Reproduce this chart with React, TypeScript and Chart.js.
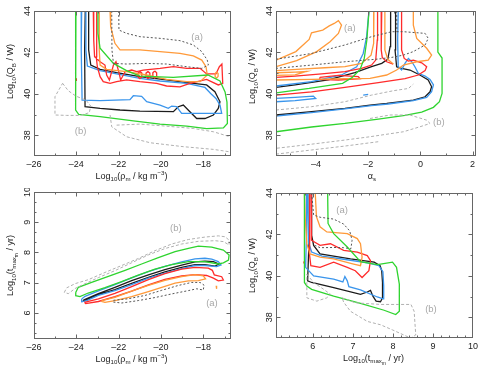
import React, { useEffect, useRef } from "react";
import { Chart, registerables } from "chart.js";
Chart.register(...registerables);

type Pt = [number, number];
type Seg = [string, number];

// ---------------- Panel 1 : Log10(QB/W) vs Log10(rho_m) ----------------
const p1XTicks = [-26, -24, -22, -20, -18];
const p1YTicks = [38, 40, 42, 44];
const p1Green: Pt[] = [[-24.02,44],[-24.05,41.31],[-24.02,39.22],[-23.89,39.01],[-22.88,38.9],[-21.31,38.7],[-20.05,38.54],[-18.79,38.44],[-17.85,38.32],[-17.06,38.36],[-16.87,38.57],[-16.89,39.6],[-16.98,40.09],[-17.22,40.62],[-17.79,40.91],[-19.42,40.8],[-21.0,40.86],[-21.63,41.12],[-22.25,41.47],[-22.88,42.2],[-22.98,42.92],[-22.98,44]];
const p1Black: Pt[] = [[-23.58,44],[-23.61,42.12],[-23.59,39.38],[-22.88,39.3],[-21.94,39.22],[-21.0,39.17],[-19.42,39.14],[-19.19,39.38],[-18.95,39.46],[-18.64,39.14],[-18.32,38.81],[-17.93,38.81],[-17.53,38.98],[-17.3,39.3],[-17.22,39.62],[-17.46,40.1],[-17.85,40.43],[-18.79,40.54],[-19.74,40.67],[-21.0,40.83],[-22.1,41.02],[-22.88,41.18],[-23.32,41.39],[-23.42,42.12],[-23.42,44]];
const p1Blue: Pt[] = [[-23.75,44],[-23.77,42.12],[-23.73,39.7],[-22.88,39.67],[-21.47,39.72],[-21.31,39.91],[-20.92,39.88],[-20.68,39.62],[-20.05,39.46],[-19.66,39.3],[-19.5,39.41],[-19.27,39.38],[-19.03,39.06],[-18.16,39.06],[-17.14,39.06],[-17.22,39.46],[-17.41,39.78],[-17.66,40.02],[-17.93,40.31],[-18.79,40.51],[-20.05,40.62],[-21.0,40.75],[-22.1,40.96],[-22.88,41.12],[-23.48,41.34],[-23.55,42.12],[-23.55,44]];
const p1Red: Pt[] = [[-23.2,44],[-23.18,42.6],[-23.14,41.79],[-22.88,41.55],[-22.65,41.39],[-22.57,40.91],[-22.44,40.67],[-22.25,41.39],[-22.13,41.55],[-22.0,41.07],[-21.91,40.67],[-21.7,41.07],[-21.39,41.15],[-21.15,41.07],[-20.84,41.15],[-20.05,41.23],[-19.42,41.31],[-18.79,41.23],[-18.16,41.23],[-17.85,40.96],[-17.41,40.96],[-17.25,41.31],[-17.13,41.44],[-17.09,40.51],[-17.3,40.43],[-17.85,40.7],[-18.64,40.51],[-19.11,40.34],[-19.74,40.38],[-20.21,40.51],[-21.0,40.59],[-21.63,40.67],[-22.1,40.59],[-22.41,40.51],[-22.73,40.59],[-22.88,40.83],[-23.01,41.31],[-23.06,41.79],[-23.04,44]];
const p1RedLoopA: Pt[] = [[-21.0,41.08],[-20.91,41.0],[-20.91,40.82],[-21.0,40.74],[-21.09,40.82],[-21.09,41.0],[-21.0,41.08]];
const p1RedLoopB: Pt[] = [[-20.62,41.08],[-20.53,41.0],[-20.53,40.82],[-20.62,40.74],[-20.71,40.82],[-20.71,41.0],[-20.62,41.08]];
const p1RedLoopC: Pt[] = [[-20.3,41.1],[-20.21,41.02],[-20.21,40.84],[-20.3,40.76],[-20.39,40.84],[-20.39,41.02],[-20.3,41.1]];
const p1RedDot: Pt[] = [[-24.0,40.75],[-24.0,40.62]];
const p1Orange: Pt[] = [[-22.41,44],[-22.38,43.24],[-22.18,42.44],[-21.94,42.12],[-21.0,42.12],[-20.05,42.04],[-19.11,41.95],[-18.48,41.83],[-18.08,41.63],[-17.88,41.31],[-17.82,40.91],[-18.16,40.59],[-18.79,40.59],[-19.74,40.7],[-20.68,40.91],[-21.63,41.07],[-22.57,41.18],[-22.88,41.39],[-22.92,42.12],[-22.92,44]];
const p1OrangeLoop: Pt[] = [[-17.38,41.06],[-17.31,40.98],[-17.31,40.84],[-17.38,40.76],[-17.45,40.84],[-17.45,40.98],[-17.38,41.06]];
const p1DarkDot: Pt[] = [[-22.0,44],[-21.99,43.08],[-21.63,42.92],[-21.0,42.76],[-20.05,42.68],[-19.11,42.57],[-18.48,42.36],[-18.08,42.04],[-17.82,41.63],[-17.77,41.39],[-18.08,41.23],[-18.79,41.31],[-19.74,41.44],[-20.68,41.47],[-21.63,41.44],[-22.25,41.47],[-22.32,42.12],[-22.33,44]];
const p1LightA: Pt[] = [[-24.65,40.51],[-24.38,40.15],[-24.02,39.89],[-23.55,39.7],[-23.32,39.41],[-23.39,39.09],[-23.83,38.96],[-24.46,38.96],[-25.01,38.98],[-25.01,39.86],[-24.65,40.51]];
const p1LightB: Pt[] = [[-22.41,38.98],[-22.33,38.41],[-21.63,37.93],[-20.52,37.64],[-18.95,37.45],[-17.53,37.32],[-16.75,37.2]];
const p1LightC: Pt[] = [[-22.1,38.49],[-21.0,38.54],[-19.74,38.44],[-18.48,38.33],[-17.53,38.17],[-16.75,37.93]];

// ---------------- Panel 2 : Log10(QB/W) vs alpha_s ----------------
const p2XTicks = [-4, -2, 0, 2];
const p2YTicks = [38, 40, 42, 44];
const p2GreenA: Pt[] = [[-5.53,38.17],[-4.17,38.4],[-2.89,38.57],[-1.61,38.78],[-0.59,38.96],[0.05,39.12],[0.5,39.35],[0.73,39.62],[0.83,40.02],[0.83,41.73],[0.67,42.02],[0.67,44]];
const p2GreenB: Pt[] = [[-5.53,40.05],[-4.26,40.26],[-2.98,40.51],[-2.6,40.8],[-2.31,41.18],[-2.15,41.71],[-2.05,42.6],[-1.97,44]];
const p2BlackA: Pt[] = [[-5.53,38.98],[-4.17,39.14],[-2.89,39.3],[-1.93,39.46],[-1.29,39.54],[-0.27,39.7],[0.18,39.86],[0.37,40.1],[0.43,40.34],[0.3,40.67],[-0.02,40.91],[-0.4,41.15],[-0.72,41.23],[-0.91,41.31],[-0.97,42.12],[-0.95,44]];
const p2BlackB: Pt[] = [[-5.53,40.31],[-4.8,40.43],[-3.53,40.67],[-2.51,41.02],[-1.87,41.31],[-1.48,41.47],[-1.25,41.67],[-1.16,42.28],[-1.14,44]];
const p2BlueA: Pt[] = [[-5.53,38.93],[-4.17,39.09],[-2.89,39.27],[-1.87,39.43],[-1.23,39.51],[-0.27,39.67],[0.24,39.83],[0.43,40.1],[0.5,40.43],[0.37,40.7],[0.18,40.86],[-0.08,40.99],[-0.21,41.31],[-0.33,41.55],[-0.46,41.71],[-0.59,41.47],[-0.72,41.15],[-0.85,41.31],[-0.87,42.6],[-0.85,44]];
const p2BlueB: Pt[] = [[-5.53,40.38],[-4.17,40.59],[-3.02,40.91],[-2.44,41.31],[-2.19,41.95],[-2.06,42.76],[-1.97,44]];
const p2BlueLoop: Pt[] = [[-5.53,39.78],[-4.8,39.83],[-4.1,39.89],[-4.01,39.78],[-4.8,39.67],[-5.53,39.62]];
const p2BlueDash: Pt[] = [[-2.19,39.94],[-2.0,39.97]];
const p2RedA: Pt[] = [[-5.53,39.94],[-4.17,40.1],[-2.89,40.31],[-1.61,40.54],[-0.59,40.73],[-0.08,40.91],[0.18,41.12],[0.24,41.31],[0.05,41.5],[-0.27,41.63],[-0.46,41.58],[-0.62,41.71],[-0.72,42.12],[-0.72,44]];
const p2RedB: Pt[] = [[-5.53,40.8],[-4.8,40.86],[-3.78,40.96],[-2.89,41.07],[-2.25,41.23],[-1.87,41.39],[-1.71,41.63],[-1.65,42.6],[-1.64,44]];
const p2RedC: Pt[] = [[-1.48,44],[-1.5,42.12],[-1.46,41.76],[-1.29,41.55],[-1.04,41.44]];
const p2RedLoop: Pt[] = [[-3.85,40.8],[-3.14,40.89],[-2.38,40.83],[-2.31,40.73],[-3.14,40.67],[-3.85,40.7],[-3.85,40.8]];
const p2OrangeTongue: Pt[] = [[-5.53,41.63],[-4.77,42.04],[-4.26,42.63],[-4.17,42.95],[-3.74,43.08],[-3.49,43.28],[-3.3,43.4],[-3.14,43.53],[-3.02,43.32],[-3.14,42.92],[-3.46,42.52],[-3.97,42.04],[-4.74,41.6],[-5.53,41.31]];
const p2OrangeA: Pt[] = [[-5.53,40.67],[-4.17,40.7],[-2.89,40.73],[-1.93,40.75],[-1.29,40.91],[-0.91,41.15],[-0.65,41.39],[-0.14,41.55],[0.3,41.63],[0.43,41.87],[0.24,42.2],[-0.14,42.68],[-0.27,43.32],[-0.27,44]];
const p2OrangeB: Pt[] = [[-1.78,44],[-1.79,42.44],[-1.89,41.87],[-2.25,41.47],[-2.89,41.31],[-3.66,41.26],[-4.42,41.21],[-5.53,41.12]];
const p2OrangeC: Pt[] = [[-1.36,44],[-1.36,42.12],[-1.25,41.67],[-1.04,41.44]];
const p2OrangeLoop: Pt[] = [[-5.53,41.02],[-4.8,41.05],[-4.36,41.08],[-4.8,40.92],[-5.53,40.89]];
const p2DarkDot: Pt[] = [[-5.53,41.67],[-4.17,41.95],[-2.89,42.36],[-1.87,42.76],[-1.1,43.0],[-0.65,43.0],[0.18,42.92],[0.3,42.68],[0.18,42.36],[-0.27,42.04],[-0.65,41.87],[-1.1,41.76],[-1.7,41.67],[-2.89,41.55],[-4.17,41.39],[-5.53,41.23]];
const p2DarkDotV: Pt[] = [[-0.91,44],[-0.9,43.0]];
const p2LightA: Pt[] = [[-5.53,39.22],[-4.17,39.38],[-2.89,39.62],[-1.87,39.94],[-1.04,40.15],[-0.46,40.26],[-0.27,40.47]];
const p2LightB: Pt[] = [[-1.93,38.81],[-1.16,38.98],[-0.4,38.98],[0.24,38.73],[0.37,38.57],[-0.02,38.41],[-0.65,38.17],[-1.93,37.93],[-2.89,37.77],[-4.17,37.57],[-5.53,37.37]];
const p2LightC: Pt[] = [[-5.53,37.09],[-4.17,37.29],[-2.89,37.48],[-1.61,37.69]];

// ---------------- Panel 3 : Log10(t_max/yr) vs Log10(rho_m) ----------------
const p3XTicks = [-26, -24, -22, -20, -18];
const p3YTicks = [6, 7, 8, 9, 10];
const p3Green: Pt[] = [[-24.03,6.68],[-23.91,6.85],[-23.28,7.01],[-22.49,7.21],[-21.7,7.41],[-20.92,7.62],[-20.13,7.83],[-19.34,8.03],[-18.71,8.14],[-18.24,8.21],[-17.61,8.18],[-17.06,8.08],[-16.79,7.92],[-16.82,7.75],[-17.06,7.66],[-17.3,7.62],[-17.93,7.7],[-18.71,7.7],[-19.5,7.6],[-20.29,7.45],[-21.08,7.25],[-21.86,7.04],[-22.65,6.84],[-23.44,6.66],[-23.83,6.54],[-24.03,6.57],[-24.03,6.68]];
const p3Blue: Pt[] = [[-23.75,6.46],[-23.59,6.55],[-22.96,6.73],[-22.18,6.94],[-21.39,7.16],[-20.6,7.37],[-19.82,7.54],[-19.03,7.69],[-18.4,7.79],[-17.93,7.81],[-17.61,7.78],[-17.3,7.7],[-17.17,7.59],[-17.38,7.53],[-17.93,7.57],[-18.4,7.57],[-19.03,7.47],[-19.82,7.32],[-20.6,7.15],[-21.39,6.94],[-22.18,6.74],[-22.96,6.58],[-23.51,6.41],[-23.75,6.37],[-23.75,6.46]];
const p3Black: Pt[] = [[-23.67,6.43],[-22.96,6.64],[-22.18,6.85],[-21.39,7.07],[-20.6,7.26],[-19.82,7.43],[-19.03,7.58],[-18.4,7.69],[-17.93,7.71],[-17.53,7.7],[-17.27,7.62],[-17.45,7.55],[-17.93,7.6],[-18.4,7.6],[-19.03,7.51],[-19.82,7.36],[-20.6,7.18],[-21.39,6.98],[-22.18,6.77],[-22.96,6.61],[-23.51,6.44],[-23.67,6.39],[-23.67,6.43]];
const p3Red: Pt[] = [[-23.62,6.35],[-22.96,6.47],[-22.18,6.65],[-21.39,6.87],[-20.6,7.1],[-19.82,7.3],[-19.03,7.45],[-18.4,7.51],[-17.77,7.48],[-17.58,7.41],[-17.49,7.26],[-17.14,7.2],[-17.06,7.09],[-17.3,7.06],[-17.53,7.15],[-17.85,7.24],[-18.4,7.27],[-19.03,7.23],[-19.82,7.11],[-20.6,6.93],[-21.39,6.72],[-22.18,6.54],[-22.96,6.38],[-23.56,6.31],[-23.62,6.35]];
const p3Orange: Pt[] = [[-22.8,6.41],[-22.18,6.52],[-21.39,6.72],[-20.6,6.91],[-19.82,7.08],[-19.03,7.2],[-18.4,7.27],[-18.01,7.23],[-17.9,7.13],[-18.24,7.07],[-18.71,7.06],[-19.34,6.99],[-19.97,6.85],[-20.6,6.71],[-21.39,6.54],[-22.18,6.41],[-22.65,6.35],[-22.8,6.38],[-22.8,6.41]];
const p3OrangeDot: Pt[] = [[-17.4,6.9],[-17.38,6.8]];
const p3DarkDot: Pt[] = [[-22.25,6.42],[-21.55,6.47],[-20.76,6.58],[-19.97,6.75],[-19.19,6.91],[-18.56,7.01],[-18.16,7.01],[-17.97,6.92],[-18.01,6.76],[-18.32,6.8],[-18.71,6.74],[-19.5,6.63],[-20.29,6.51],[-21.08,6.41],[-21.86,6.33],[-22.25,6.36],[-22.25,6.42]];
const p3Light: Pt[] = [[-24.57,6.68],[-24.46,6.83],[-24.06,6.97],[-23.44,7.1],[-22.65,7.34],[-21.86,7.57],[-21.08,7.8],[-20.29,8.06],[-19.5,8.28],[-18.71,8.43],[-17.93,8.51],[-17.3,8.55],[-16.98,8.52],[-16.79,8.41],[-16.79,8.25],[-17.06,8.36],[-17.45,8.39],[-18.24,8.37],[-19.03,8.28],[-19.82,8.13],[-20.6,7.92],[-21.39,7.66],[-22.18,7.4],[-22.96,7.17],[-23.59,6.97],[-24.06,6.81],[-24.38,6.64],[-24.57,6.68]];

// ---------------- Panel 4 : Log10(QB/W) vs Log10(t_max/yr) ----------------
const p4XTicks = [6, 7, 8, 9, 10];
const p4YTicks = [38, 40, 42, 44];
const p4Green: Pt[] = [[5.79,44],[5.79,41.96],[5.79,39.68],[5.85,39.51],[5.97,39.35],[6.52,39.02],[7.19,38.67],[7.78,38.34],[8.07,38.13],[8.16,38.29],[8.16,38.94],[8.16,39.6],[8.09,40.41],[7.99,40.66],[7.69,40.57],[7.61,40.54],[7.19,40.69],[6.86,41.39],[6.52,42.04],[6.38,42.53],[6.37,44]];
const p4Black: Pt[] = [[5.92,44],[5.91,41.96],[5.87,39.76],[5.97,39.68],[6.52,39.43],[7.19,39.11],[7.36,39.22],[7.44,39.3],[7.5,39.02],[7.58,38.78],[7.69,38.75],[7.74,38.94],[7.74,39.68],[7.72,40.25],[7.68,40.49],[7.53,40.66],[6.94,40.82],[6.18,41.06],[6.02,41.47],[5.97,41.96],[5.97,44]];
const p4Blue: Pt[] = [[5.85,44],[5.84,41.96],[5.82,40.41],[6.02,40.0],[6.52,39.84],[6.75,39.71],[6.8,39.97],[6.86,39.76],[6.9,39.48],[7.19,39.32],[7.61,38.98],[7.76,38.89],[7.77,39.51],[7.75,40.2],[7.65,40.49],[7.4,40.62],[6.81,40.79],[6.23,40.95],[5.97,41.15],[5.89,41.63],[5.87,44]];
const p4Red: Pt[] = [[5.96,44],[5.96,42.12],[5.97,41.72],[6.18,41.47],[6.44,41.55],[6.77,41.23],[7.11,41.15],[7.36,40.98],[7.44,40.74],[7.4,40.25],[7.23,39.92],[7.06,40.25],[6.86,40.41],[6.52,40.66],[6.18,40.41],[5.95,40.49],[5.91,41.15],[5.92,42.12],[5.92,44]];
const p4RedDot: Pt[] = [[5.77,40.69],[5.79,40.58]];
const p4Orange: Pt[] = [[6.06,44],[6.09,42.86],[6.18,42.37],[6.35,42.12],[6.86,42.04],[7.11,41.8],[7.19,41.55],[7.23,40.9],[7.19,40.49],[7.02,40.57],[6.52,40.82],[6.18,40.9],[5.93,41.06],[5.85,41.55],[5.81,42.78],[5.79,44]];
const p4DarkDot: Pt[] = [[5.97,44],[6.02,42.94],[6.18,42.83],[6.52,42.74],[6.77,42.5],[6.92,42.17],[6.98,41.72],[6.95,41.31],[6.77,41.36],[6.52,41.37],[6.18,41.36],[6.06,41.47]];
const p4LightA: Pt[] = [[5.85,40.08],[6.02,39.68],[6.27,39.35],[6.44,39.11],[6.35,38.94],[6.1,38.78],[5.85,38.94],[5.85,39.51],[5.85,40.08]];
const p4LightB: Pt[] = [[6.73,38.94],[7.06,38.7],[7.69,38.62],[8.45,38.62],[8.53,38.29],[8.57,37.15],[8.45,36.99],[7.99,37.39],[7.69,37.64],[7.36,37.8],[6.94,38.29],[6.77,38.73],[6.73,38.94]];

// ---------------- styling ----------------
const FONT = '"Liberation Sans", Arial, Helvetica, sans-serif';
const GREEN = "#2fd42f";
const BLACK = "#1c1c1c";
const BLUE = "#3a95ec";
const RED = "#ff2b2b";
const ORANGE = "#ff9a3a";
const DARKDOT = "#555555";
const LIGHTDOT = "#b0b0b0";
const DOT_DARK = [2, 2];
const DOT_LIGHT = [3, 2];

const qbTitle: Seg[] = [["Log", 0], ["10", 1], ["(Q", 0], ["B", 1], [" / W)", 0]];
const rhoTitle: Seg[] = [["Log", 0], ["10", 1], ["(\u03c1", 0], ["m", 1], [" / kg m", 0], ["\u22123", -1], [")", 0]];
const alphaTitle: Seg[] = [["\u03b1", 0], ["s", 1]];
const tTitle: Seg[] = [["Log", 0], ["10", 1], ["(t", 0], ["max", 1], ["m", 2], [" / yr)", 0]];

interface Series { pts: Pt[]; color: string; dash?: number[]; }
interface Panel {
  key: string;
  box: [number, number, number, number];
  pad: { left: number; top: number; right: number; bottom: number };
  xr: [number, number]; yr: [number, number];
  xTicks: number[]; yTicks: number[]; xMinor: number; yMinor: number;
  xTitle: Seg[]; yTitle: Seg[];
  xTitleShift: number; yTitleShift: number;
  notes: { t: string; x: number; y: number }[];
  series: Series[];
}

const dd = (pts: Pt[]): Series => ({ pts, color: DARKDOT, dash: DOT_DARK });
const ld = (pts: Pt[]): Series => ({ pts, color: LIGHTDOT, dash: DOT_LIGHT });

const PANELS: Panel[] = [
  {
    key: "p1", box: [0, 0, 247, 188], pad: { left: 34, top: 11, right: 16, bottom: 32 },
    xr: [-26, -16.7], yr: [37, 44], xTicks: p1XTicks, yTicks: p1YTicks, xMinor: 1, yMinor: 1,
    xTitle: rhoTitle, yTitle: qbTitle, xTitleShift: -1, yTitleShift: -12,
    notes: [{ t: "(a)", x: -18.3, y: 42.72 }, { t: "(b)", x: -23.8, y: 38.2 }],
    series: [ld(p1LightA), ld(p1LightB), ld(p1LightC), dd(p1DarkDot),
      { pts: p1Green, color: GREEN }, { pts: p1Orange, color: ORANGE }, { pts: p1OrangeLoop, color: ORANGE },
      { pts: p1Red, color: RED }, { pts: p1RedLoopA, color: RED }, { pts: p1RedLoopB, color: RED }, { pts: p1RedLoopC, color: RED }, { pts: p1RedDot, color: RED },
      { pts: p1Blue, color: BLUE }, { pts: p1Black, color: BLACK }],
  },
  {
    key: "p2", box: [247, 0, 248, 188], pad: { left: 29, top: 11, right: 19, bottom: 32 },
    xr: [-5.53, 2.13], yr: [37, 44], xTicks: p2XTicks, yTicks: p2YTicks, xMinor: 1, yMinor: 1,
    xTitle: alphaTitle, yTitle: qbTitle, xTitleShift: -4, yTitleShift: -7,
    notes: [{ t: "(a)", x: -2.7, y: 43.16 }, { t: "(b)", x: 0.71, y: 38.62 }],
    series: [ld(p2LightA), ld(p2LightB), ld(p2LightC), dd(p2DarkDot), dd(p2DarkDotV),
      { pts: p2GreenA, color: GREEN }, { pts: p2GreenB, color: GREEN },
      { pts: p2OrangeTongue, color: ORANGE }, { pts: p2OrangeA, color: ORANGE }, { pts: p2OrangeB, color: ORANGE }, { pts: p2OrangeC, color: ORANGE }, { pts: p2OrangeLoop, color: ORANGE },
      { pts: p2RedA, color: RED }, { pts: p2RedB, color: RED }, { pts: p2RedC, color: RED }, { pts: p2RedLoop, color: RED },
      { pts: p2BlueA, color: BLUE }, { pts: p2BlueB, color: BLUE }, { pts: p2BlueLoop, color: BLUE }, { pts: p2BlueDash, color: BLUE },
      { pts: p2BlackA, color: BLACK }, { pts: p2BlackB, color: BLACK }],
  },
  {
    key: "p3", box: [0, 188, 247, 188], pad: { left: 34, top: 4, right: 16, bottom: 37 },
    xr: [-26, -16.7], yr: [5.14, 10], xTicks: p3XTicks, yTicks: p3YTicks, xMinor: 1, yMinor: 1 / 3,
    xTitle: rhoTitle, yTitle: tTitle, xTitleShift: -1, yTitleShift: 0,
    notes: [{ t: "(a)", x: -17.6, y: 6.32 }, { t: "(b)", x: -19.3, y: 8.8 }],
    series: [ld(p3Light), dd(p3DarkDot), { pts: p3Orange, color: ORANGE }, { pts: p3OrangeDot, color: ORANGE },
      { pts: p3Red, color: RED }, { pts: p3Green, color: GREEN }, { pts: p3Blue, color: BLUE }, { pts: p3Black, color: BLACK }],
  },
  {
    key: "p4", box: [247, 188, 248, 188], pad: { left: 29, top: 5, right: 22, bottom: 38 },
    xr: [5.08, 10], yr: [37, 44], xTicks: p4XTicks, yTicks: p4YTicks, xMinor: 0.2, yMinor: 1,
    xTitle: tTitle, yTitle: qbTitle, xTitleShift: -1, yTitleShift: 0,
    notes: [{ t: "(a)", x: 6.73, y: 43.18 }, { t: "(b)", x: 8.95, y: 38.37 }],
    series: [ld(p4LightA), ld(p4LightB), dd(p4DarkDot), { pts: p4Green, color: GREEN },
      { pts: p4Orange, color: ORANGE }, { pts: p4Red, color: RED }, { pts: p4RedDot, color: RED },
      { pts: p4Blue, color: BLUE }, { pts: p4Black, color: BLACK }],
  },
];

function drawRich(ctx: CanvasRenderingContext2D, segs: Seg[], cx: number, cy: number, size: number, rotate: boolean) {
  ctx.save();
  ctx.translate(cx, cy);
  if (rotate) ctx.rotate(-Math.PI / 2);
  const specs = segs.map(([t, l]) => {
    const s = l === 0 ? size : l === 2 ? size * 0.55 : size * 0.68;
    const dy = l === 1 ? size * 0.28 : l === 2 ? size * 0.5 : l === -1 ? -size * 0.42 : 0;
    ctx.font = `${s}px ${FONT}`;
    return { t, s, dy, w: ctx.measureText(t).width };
  });
  const total = specs.reduce((a, b) => a + b.w, 0);
  let x = -total / 2;
  ctx.textAlign = "left";
  ctx.textBaseline = "alphabetic";
  ctx.fillStyle = "#222";
  for (const sp of specs) {
    ctx.font = `${sp.s}px ${FONT}`;
    ctx.fillText(sp.t, x, size * 0.35 + sp.dy);
    x += sp.w;
  }
  ctx.restore();
}

const fmt = (v: number) => (v < 0 ? "\u2013" + Math.abs(v) : String(v));

function minorValues(min: number, max: number, step: number) {
  const out: number[] = [];
  const start = Math.ceil((min - 1e-9) / step);
  for (let k = start; k * step <= max + 1e-9; k++) out.push(k * step);
  return out;
}

function framePlugin(p: Panel) {
  return {
    id: "frame_" + p.key,
    afterDraw(chart: any) {
      const { ctx, chartArea: a, scales } = chart;
      const xs = scales.x, ys = scales.y;
      ctx.save();
      const L = Math.round(a.left) + 0.5, R = Math.round(a.right) - 0.5;
      const T = Math.round(a.top) + 0.5, B = Math.round(a.bottom) - 0.5;
      ctx.strokeStyle = "#666";
      ctx.lineWidth = 1;
      ctx.setLineDash([]);
      ctx.strokeRect(L, T, R - L, B - T);
      const drawX = (v: number, len: number) => {
        const px = Math.round(xs.getPixelForValue(v)) + 0.5;
        if (px < L - 0.1 || px > R + 0.1) return;
        ctx.beginPath();
        ctx.moveTo(px, B); ctx.lineTo(px, B - len);
        ctx.moveTo(px, T); ctx.lineTo(px, T + len);
        ctx.stroke();
      };
      const drawY = (v: number, len: number) => {
        const py = Math.round(ys.getPixelForValue(v)) + 0.5;
        if (py < T - 0.1 || py > B + 0.1) return;
        ctx.beginPath();
        ctx.moveTo(L, py); ctx.lineTo(L + len, py);
        ctx.moveTo(R, py); ctx.lineTo(R - len, py);
        ctx.stroke();
      };
      minorValues(p.xr[0], p.xr[1], p.xMinor).forEach((v) => drawX(v, 2));
      minorValues(p.yr[0], p.yr[1], p.yMinor).forEach((v) => drawY(v, 2));
      p.xTicks.forEach((v) => drawX(v, 4));
      p.yTicks.forEach((v) => drawY(v, 4));

      ctx.fillStyle = "#222";
      ctx.font = `9px ${FONT}`;
      ctx.textAlign = "center";
      ctx.textBaseline = "middle";
      p.xTicks.forEach((v) => {
        ctx.fillText(fmt(v), xs.getPixelForValue(v), a.bottom + 8.5);
      });
      p.yTicks.forEach((v) => {
        ctx.save();
        ctx.translate(a.left - 6, ys.getPixelForValue(v));
        ctx.rotate(-Math.PI / 2);
        ctx.fillText(fmt(v), 0, 0);
        ctx.restore();
      });
      drawRich(ctx, p.xTitle, (a.left + a.right) / 2 + p.xTitleShift, a.bottom + 19.5, 9, false);
      drawRich(ctx, p.yTitle, a.left - 24, (a.top + a.bottom) / 2 + p.yTitleShift, 9, true);

      ctx.fillStyle = "#a8a8a8";
      ctx.font = `9.5px ${FONT}`;
      ctx.textAlign = "center";
      ctx.textBaseline = "middle";
      p.notes.forEach((n) => ctx.fillText(n.t, xs.getPixelForValue(n.x), ys.getPixelForValue(n.y)));
      ctx.restore();
    },
  };
}

function buildConfig(p: Panel): any {
  return {
    type: "scatter",
    data: {
      datasets: p.series.map((s, i) => ({
        label: p.key + "_" + i,
        data: s.pts.map(([x, y]) => ({ x, y })),
        showLine: true,
        borderColor: s.color,
        backgroundColor: s.color,
        borderWidth: s.dash ? 1 : 1.3,
        borderDash: s.dash || [],
        pointRadius: 0,
        pointHoverRadius: 0,
        fill: false,
        tension: 0,
      })),
    },
    options: {
      responsive: false,
      maintainAspectRatio: false,
      animation: false,
      events: [],
      layout: { padding: p.pad },
      scales: {
        x: { type: "linear", min: p.xr[0], max: p.xr[1], display: false },
        y: { type: "linear", min: p.yr[0], max: p.yr[1], display: false },
      },
      plugins: { legend: { display: false }, tooltip: { enabled: false }, title: { display: false } },
    },
    plugins: [framePlugin(p)],
  };
}

export default function App() {
  const refs = useRef<(HTMLCanvasElement | null)[]>([]);
  useEffect(() => {
    const charts = PANELS.map((p, i) => new Chart(refs.current[i] as HTMLCanvasElement, buildConfig(p)));
    return () => charts.forEach((c) => c.destroy());
  }, []);
  return (
    <div style={{ position: "absolute", left: 0, top: 0, width: 495, height: 376, background: "#fff" }}>
      {PANELS.map((p, i) => (
        <canvas
          key={p.key}
          ref={(el) => { refs.current[i] = el; }}
          width={p.box[2]}
          height={p.box[3]}
          style={{ position: "absolute", left: p.box[0], top: p.box[1], width: p.box[2], height: p.box[3] }}
        />
      ))}
    </div>
  );
}
